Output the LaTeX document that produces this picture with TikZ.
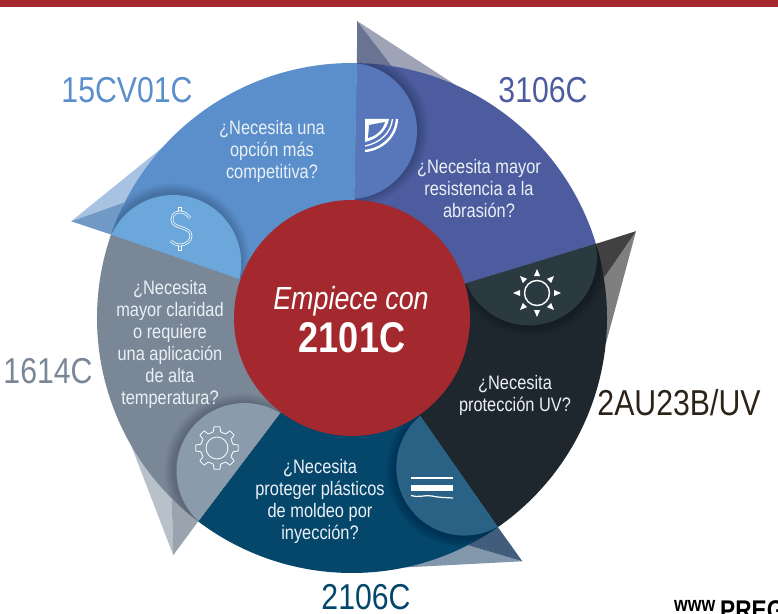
\documentclass[tikz,border=0pt]{standalone}
\usepackage{fontspec}
\setmainfont[FakeStretch=0.84]{Liberation Sans}
\definecolor{redc}{HTML}{A3292F}
\definecolor{seca}{HTML}{4C5C9F}\definecolor{lena}{HTML}{5877BA}\definecolor{fla}{HTML}{9EA3B6}\definecolor{fda}{HTML}{6A7391}
\definecolor{secb}{HTML}{1E272D}\definecolor{lenb}{HTML}{2B3A41}\definecolor{flb}{HTML}{7F7F7F}\definecolor{fdb}{HTML}{414141}
\definecolor{secc}{HTML}{05466B}\definecolor{lenc}{HTML}{2A6285}\definecolor{flc}{HTML}{8296AC}\definecolor{fdc}{HTML}{425D7B}
\definecolor{secd}{HTML}{7A8797}\definecolor{lend}{HTML}{8A9BAC}\definecolor{fld}{HTML}{B8C1CA}\definecolor{fdd}{HTML}{9AA3AE}
\definecolor{sece}{HTML}{5A8FCB}\definecolor{lene}{HTML}{6CA7DB}\definecolor{fle}{HTML}{A8C3E2}\definecolor{fde}{HTML}{7099C6}
\definecolor{bodytxt}{HTML}{EAF0F5}
\definecolor{labf}{HTML}{2B2318}
\tikzset{
  bodytext/.style={text=bodytxt,align=center,inner sep=0pt,font=\fontsize{19.5}{22}\selectfont},
  label/.style={inner sep=0pt,font=\fontsize{36}{38}\selectfont},
  iconline/.style={draw=white,line width=0.8pt,line join=round},
}
\begin{document}
\begin{tikzpicture}[x=1pt,y=1pt]
\useasboundingbox (-352,318) rectangle (426,-295);
\foreach \k/\sc/\lc/\fl/\fd in {0/seca/lena/fla/fda,1/secb/lenb/flb/fdb,2/secc/lenc/flc/fdc,3/secd/lend/fld/fdd,4/sece/lene/fle/fde}{
  \begin{scope}[rotate=-72*\k]
    \fill[\fl] (89:297) -- (81:255) -- (66:255) -- cycle;
    \fill[\fd] (89:297) -- (88.9:255) -- (81:255) -- cycle;
  \end{scope}
}
\foreach \k/\sc/\lc/\fl/\fd in {0/seca/lena/fla/fda,1/secb/lenb/flb/fdb,2/secc/lenc/flc/fdc,3/secd/lend/fld/fdd,4/sece/lene/fle/fde}{
  \begin{scope}[rotate=-72*\k]
    \fill[\sc] (0,0) -- (88.9:255) arc[start angle=88.9,end angle=16.9,radius=255] -- cycle;
    \begin{scope}
      \clip (0,0) -- (88.9:255) arc[start angle=88.9,end angle=16.9,radius=255] -- cycle;
      \foreach \r in {68.5,69.5,...,77.5}{\fill[black,fill opacity=0.018] (-1,188.5) circle[radius=\r];}
      \fill[\lc] (-3,187) circle[radius=68];
    \end{scope}
  \end{scope}
}
\fill[redc] (0,0) circle[radius=118];
\begin{scope}[shift={(-352,318)},y=-1pt]
  \fill[redc] (0,0) rectangle (778,7);
  % labels
  \node[label,text=seca] (l1) at (543,90) {3106C};
  \node[label,text=sece] (l2) at (127,90) {15CV01C};
  \node[label,text=secd] (l3) at (48,371) {1614C};
  \node[label,text=labf] (l4) at (679,403) {2AU23B/UV};
  \node[label,text=secc] (l5) at (366,597) {2106C};
  % body
  \node[bodytext] (t1) at (479,189) {¿Necesita mayor\\resistencia a la\\abrasión?};
  \node[bodytext] (t2) at (272,151) {¿Necesita una\\opción más\\competitiva?};
  \node[bodytext] (t3) at (170,344) {¿Necesita\\mayor claridad\\o requiere\\una aplicación\\de alta\\temperatura?};
  \node[bodytext] (t4) at (320,501) {¿Necesita\\proteger plásticos\\de moldeo por\\inyección?};
  \node[bodytext] (t5) at (515,395) {¿Necesita\\protección UV?};
  \node[inner sep=0pt,text=white,font=\fontsize{32}{34}\selectfont\itshape] (c1) at (351,301) {Empiece con};
  \node[inner sep=0pt,text=white,font=\fontsize{43}{45}\selectfont\bfseries] (c2) at (352,338) {2101C};
  % footer
  \node[inner sep=0pt,anchor=base west,text=black,font=\fontsize{21}{22}\selectfont\bfseries] (w1) at (674,611) {www};
  \node[inner sep=0pt,anchor=base west,text=black,font=\fontsize{27}{28}\selectfont\bfseries] (w2) at (720,619.5) {PREG};
  % icon: abrasion
  \fill[white] (365,119) -- (389,119) .. controls (387,130) and (378,139) .. (365,142) -- cycle;
  \fill[lena] (369,125) -- (385,122) .. controls (383,130) and (376,136) .. (368,138) -- cycle;
  \draw[white,line width=1.3pt] (392.5,119) .. controls (391,133) and (380,143) .. (365,146);
  \draw[white,line width=2.4pt] (397,119) .. controls (396,136) and (383,149) .. (365,151);
  % icon: sun
  \draw[white,line width=1.4pt] (537,293) circle[radius=12.5];
  \begin{scope}[shift={(537,293)},y=1pt]
    \foreach \a in {0,90,180,270}{\fill[white,rotate=\a] (17,-3) -- (24,0) -- (17,3) -- cycle;}
    \foreach \a in {45,135,225,315}{\fill[white,rotate=\a] (17,-3) -- (24,0) -- (17,3) -- cycle;}
  \end{scope}
  % icon: waves
  \draw[white,line width=1.2pt] (411,478) -- (453,478);
  \fill[white] (411,485) rectangle (453,491);
  \draw[white,line width=1.2pt] (411,495.5) .. controls (420,498) and (425,494.5) .. (432,496) .. controls (438,497.5) and (445,497.5) .. (453,498);
  % icon: gear
  \begin{scope}[shift={(217,448)},y=1pt]
    \draw[iconline] (0,0) circle[radius=11];
    \foreach \a in {0,45,...,315}{
      \draw[iconline] (\a-13:16.5) -- (\a-8:21.5) -- (\a+8:21.5) -- (\a+13:16.5) -- (\a+32:16.5);
    }
  \end{scope}
  % icon: dollar
  \draw[white,line width=0.7pt,fill=lene] (178.6,207.5) rectangle (181.4,250);
  \fill[lene] (176,212) rectangle (184,245);
  \draw[white,line width=0.7pt,double=lene,double distance=1.3pt]
    (190,218) .. controls (187,214) and (184,212) .. (180,212) .. controls (174,212) and (172,216) .. (172,220)
    .. controls (172,229) and (191,226) .. (191,236) .. controls (191,241) and (186,245) .. (180,245)
    .. controls (177,245) and (174,244) .. (171,241);
\end{scope}
\end{tikzpicture}
\end{document}
